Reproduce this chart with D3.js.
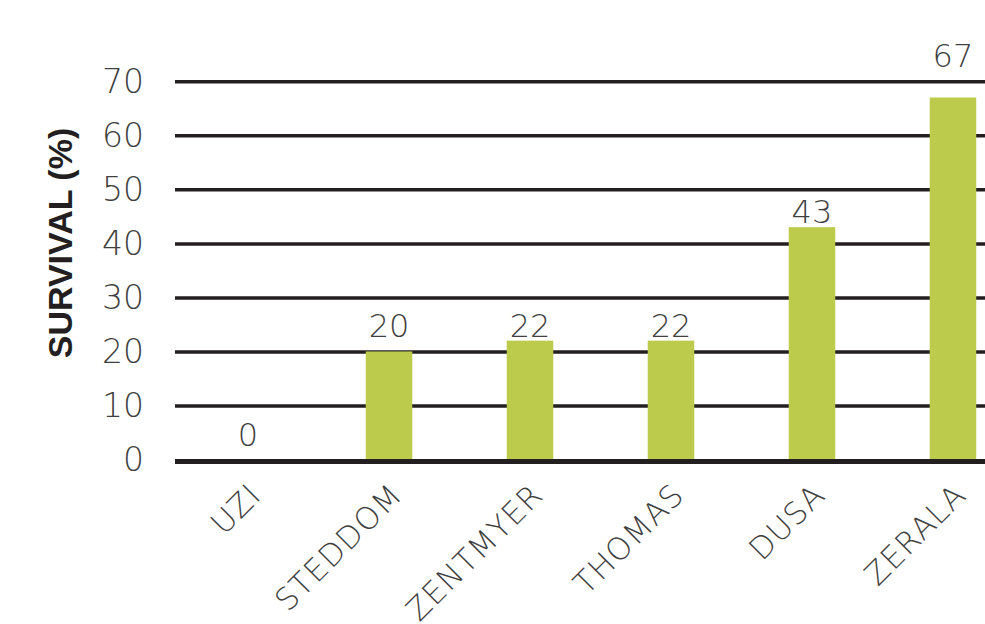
<!DOCTYPE html>
<html>
<head>
<meta charset="utf-8">
<script src="https://cdn.jsdelivr.net/npm/d3@7"></script>
<style>
  html, body { margin: 0; padding: 0; background: #ffffff; }
  svg { display: block; }
</style>
</head>
<body>
<svg id="chart" width="985" height="624"></svg>
<script>
const categories = ["UZI", "STEDDOM", "ZENTMYER", "THOMAS", "DUSA", "ZERALA"];
const survival = [0, 20, 22, 22, 43, 67];
const yTicks = [0, 10, 20, 30, 40, 50, 60, 70];
const yTitle = "SURVIVAL (%)";

const svg = d3.select("#chart");
const W = 985, H = 624;

const x = d3.scaleBand()
  .domain(categories)
  .range([175, 1026])
  .paddingInner(0.67)
  .paddingOuter(0.353);

const y = d3.scaleLinear()
  .domain([0, 70])
  .range([459.5, 81.3]);

const lightFont = "'DejaVu Sans', 'Open Sans', sans-serif";
const textColor = "#3f3f41";

// gridlines
const grid = svg.append("g")
  .attr("transform", "translate(175,0)")
  .call(d3.axisLeft(y).tickValues(yTicks.filter(d => d !== 0)).tickSize(-(1026 - 175)).tickFormat(""));
grid.select(".domain").remove();
grid.selectAll(".tick line")
  .attr("stroke", "#231f20")
  .attr("stroke-width", 3.5);

// bars
svg.append("g").selectAll("rect")
  .data(categories)
  .join("rect")
  .attr("x", d => x(d))
  .attr("width", x.bandwidth())
  .attr("y", (d, i) => y(survival[i]))
  .attr("height", (d, i) => y(0) - y(survival[i]))
  .attr("fill", "#bccb4c");

// baseline
svg.append("line")
  .attr("x1", 175).attr("x2", W)
  .attr("y1", y(0) + 2).attr("y2", y(0) + 2)
  .attr("stroke", "#231f20")
  .attr("stroke-width", 5);

// y tick labels
svg.append("g").selectAll("text")
  .data(yTicks)
  .join("text")
  .attr("x", 144)
  .attr("y", d => y(d))
  .attr("dy", "0.36em")
  .attr("text-anchor", "end")
  .attr("font-family", lightFont)
  .attr("font-weight", 200)
  .attr("font-size", 33)
  .attr("fill", textColor)
  .text(d => d);

// value labels: sit just above the bar, lifted above a gridline if they would overlap it
const labelH = 26;
function labelBaseline(v) {
  let b = y(v) - 4;
  const hit = yTicks.map(t => y(t)).filter(g => g >= b - labelH && g <= b + 6);
  if (hit.length) b = Math.min(...hit) - 14;
  return b;
}
svg.append("g").selectAll("text")
  .data(categories)
  .join("text")
  .attr("x", d => x(d) + x.bandwidth() / 2)
  .attr("y", (d, i) => labelBaseline(survival[i]))
  .attr("text-anchor", "middle")
  .attr("font-family", lightFont)
  .attr("font-weight", 200)
  .attr("font-size", 32)
  .attr("fill", textColor)
  .text((d, i) => survival[i]);

// x labels
svg.append("g").selectAll("text")
  .data(categories)
  .join("text")
  .attr("transform", d => `translate(${x(d) + x.bandwidth() / 2 + 15},497) rotate(-45)`)
  .attr("text-anchor", "end")
  .attr("font-family", lightFont)
  .attr("font-weight", 200)
  .attr("font-size", 31)
  .attr("letter-spacing", "1px")
  .attr("fill", textColor)
  .text(d => d);

// y title
svg.append("text")
  .attr("transform", `translate(72,243) rotate(-90)`)
  .attr("text-anchor", "middle")
  .attr("font-family", "'Liberation Sans', Arial, sans-serif")
  .attr("font-weight", "bold")
  .attr("font-size", 34)
  .attr("fill", "#231f20")
  .text(yTitle);
</script>
</body>
</html>
